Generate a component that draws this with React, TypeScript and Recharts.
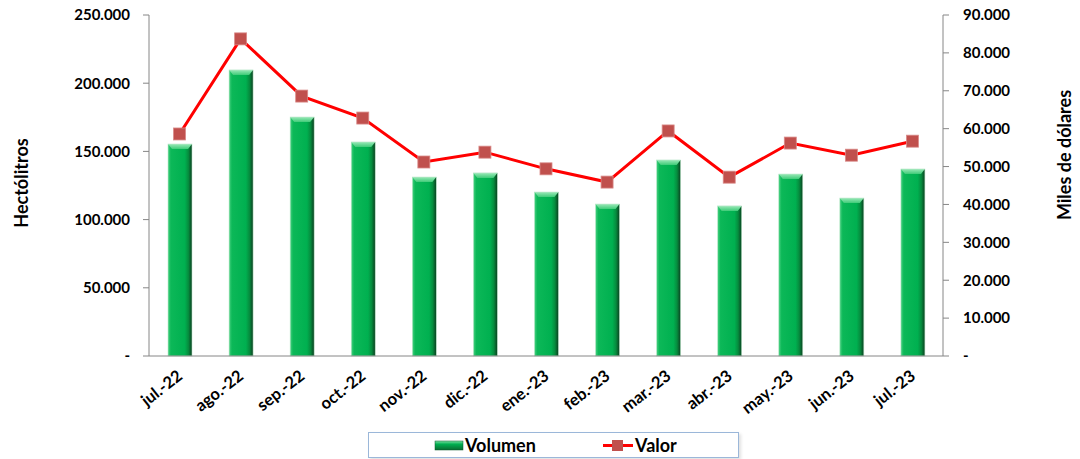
import React from "react";
import { ComposedChart, Bar, Line, XAxis, YAxis } from "recharts";

const FONT = "Lato, 'Noto Sans', sans-serif";

const MONTHS = [
  "jul.-22", "ago.-22", "sep.-22", "oct.-22", "nov.-22", "dic.-22", "ene.-23",
  "feb.-23", "mar.-23", "abr.-23", "may.-23", "jun.-23", "jul.-23",
];
const VOLUMEN = [155400, 209700, 175200, 156900, 131200, 134200, 120200, 111400, 143700, 110000, 133400, 115800, 137100];
const VALOR = [58600, 83700, 68600, 62800, 51200, 53800, 49400, 45900, 59400, 47200, 56200, 53000, 56700];
const LEFT_TICKS = [0, 50000, 100000, 150000, 200000, 250000];
const RIGHT_TICKS = [0, 10000, 20000, 30000, 40000, 50000, 60000, 70000, 80000, 90000];

const data = MONTHS.map((m, i) => ({ mes: m, volumen: VOLUMEN[i], valor: VALOR[i] }));

// 150000 -> "150.000", 0 -> "-"
const fmt = (v: number) => (v === 0 ? "-" : v.toLocaleString("en-US").replace(/,/g, "."));

function BevelBar(props: any) {
  const { x, y, width, height } = props;
  if (!height || height <= 0) return null;
  const b = Math.min(5, height);
  return (
    <g>
      <rect x={x} y={y} width={width} height={height} fill="url(#barGrad)" />
      <polygon
        points={`${x},${y} ${x + width},${y} ${x + width - 4},${y + b} ${x + 4},${y + b}`}
        fill="url(#bevelGrad)"
      />
      <rect x={x} y={y} width={width} height={height} fill="none" stroke="#b9e6c8" strokeWidth={0.6} />
    </g>
  );
}

function SquareDot(props: any) {
  const { cx, cy } = props;
  if (cx == null || cy == null) return null;
  return <rect x={cx - 6} y={cy - 6} width={12} height={12} fill="#c0504d" stroke="#d98b89" strokeWidth={0.8} />;
}

function MonthTick({ x, y, payload }: any) {
  return (
    <text
      x={x + 4}
      y={y + 14}
      textAnchor="end"
      transform={`rotate(-38, ${x + 4}, ${y + 14})`}
      fontFamily={FONT}
      fontWeight={700}
      fontSize={16.5}
      fill="#000"
    >
      {payload.value}
    </text>
  );
}

function AxisTitle({ viewBox, text, dx, cy }: any) {
  const x = viewBox.x + dx;
  const y = cy ?? viewBox.y + viewBox.height / 2;
  return (
    <text
      x={x}
      y={y}
      textAnchor="middle"
      dominantBaseline="middle"
      transform={`rotate(-90, ${x}, ${y})`}
      fontFamily={FONT}
      fontWeight={700}
      fontSize={18}
      fill="#000"
    >
      {text}
    </text>
  );
}

function LegendBox() {
  return (
    <div
      style={{
        position: "absolute", left: 368, top: 432, width: 369, height: 24,
        border: "1px solid #9bb7d9", background: "#fff", boxShadow: "2px 2px 3px rgba(0,0,0,0.12)",
      }}
    >
      <svg width={369} height={24} style={{ position: "absolute", left: 0, top: 0 }}>
        <defs>
          <linearGradient id="legGrad" x1="0" y1="0" x2="0" y2="1">
            <stop offset="0%" stopColor="#7fe0a4" />
            <stop offset="35%" stopColor="#00b050" />
            <stop offset="100%" stopColor="#0a6a31" />
          </linearGradient>
        </defs>
        <rect x={66} y={8} width={28} height={9} fill="url(#legGrad)" stroke="#0a5a2a" strokeWidth={0.5} />
        <text x={96} y={19} fontFamily={FONT} fontWeight={700} fontSize={18}>Volumen</text>
        <line x1={234} y1={12.5} x2={264} y2={12.5} stroke="#ff0000" strokeWidth={3} />
        <rect x={243} y={7} width={11} height={11} fill="#c0504d" />
        <text x={266} y={19} fontFamily={FONT} fontWeight={700} fontSize={18}>Valor</text>
      </svg>
    </div>
  );
}

export default function App() {
  return (
    <div style={{ position: "absolute", left: 0, top: 0, width: 1080, height: 459, background: "#fff" }}>
      <ComposedChart
        width={1080}
        height={459}
        data={data}
        margin={{ top: 15, right: 0, bottom: 0, left: 0 }}
        barCategoryGap="30%"
      >
        <defs>
          <linearGradient id="barGrad" x1="0" y1="0" x2="1" y2="0">
            <stop offset="0%" stopColor="#45d07f" />
            <stop offset="12%" stopColor="#0cb858" />
            <stop offset="70%" stopColor="#00b050" />
            <stop offset="85%" stopColor="#068c3e" />
            <stop offset="100%" stopColor="#0b3f20" />
          </linearGradient>
          <linearGradient id="bevelGrad" x1="0" y1="0" x2="0" y2="1">
            <stop offset="0%" stopColor="#9ae9b8" />
            <stop offset="100%" stopColor="#3fcb78" />
          </linearGradient>
        </defs>
        <XAxis
          dataKey="mes"
          height={103}
          interval={0}
          tick={<MonthTick />}
          tickLine={false}
          axisLine={{ stroke: "#868686" }}
        />
        <YAxis
          yAxisId="left"
          width={149}
          domain={[0, 250000]}
          ticks={LEFT_TICKS}
          tickFormatter={fmt}
          tickSize={6}
          tickMargin={13}
          tickLine={{ stroke: "#868686" }}
          axisLine={{ stroke: "#868686" }}
          tick={{ fill: "#000", fontFamily: FONT, fontWeight: 700, fontSize: 15 }}
          label={{ content: (p: any) => <AxisTitle viewBox={p.viewBox} text="Hectólitros" dx={23} cy={183} /> }}
        />
        <YAxis
          yAxisId="right"
          orientation="right"
          width={137}
          domain={[0, 90000]}
          ticks={RIGHT_TICKS}
          tickFormatter={fmt}
          tickSize={6}
          tickMargin={14}
          tickLine={{ stroke: "#868686" }}
          axisLine={{ stroke: "#868686" }}
          tick={{ fill: "#000", fontFamily: FONT, fontWeight: 700, fontSize: 15, textAnchor: "start" }}
          label={{ content: (p: any) => <AxisTitle viewBox={p.viewBox} text="Miles de dólares" dx={123} cy={155} /> }}
        />
        <Bar
          yAxisId="left"
          dataKey="volumen"
          name="Volumen"
          barSize={24}
          shape={<BevelBar />}
          isAnimationActive={false}
        />
        <Line
          yAxisId="right"
          dataKey="valor"
          name="Valor"
          type="linear"
          stroke="#ff0000"
          strokeWidth={3}
          dot={<SquareDot />}
          activeDot={false}
          isAnimationActive={false}
        />
      </ComposedChart>
      <LegendBox />
    </div>
  );
}
